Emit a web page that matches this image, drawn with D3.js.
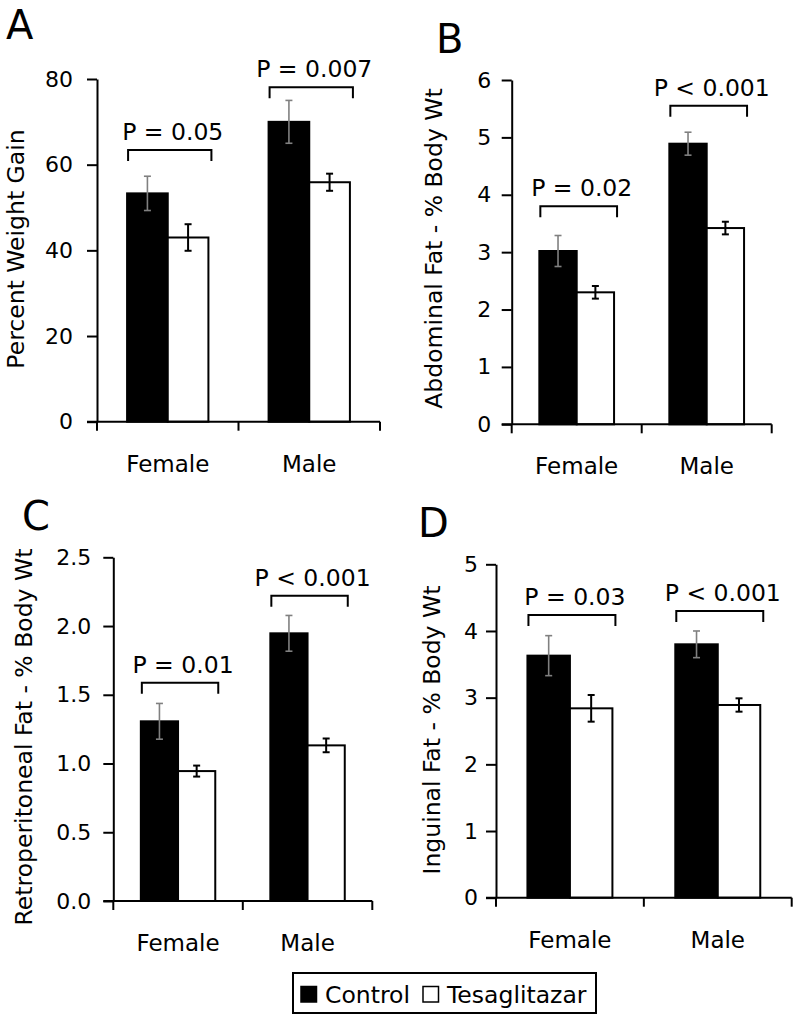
<!DOCTYPE html>
<html><head><meta charset="utf-8">
<script src="https://cdn.jsdelivr.net/npm/d3@7"></script>
<style>
body{margin:0;background:#fff}
svg{display:block}
text{font-family:"DejaVu Sans",sans-serif;fill:#000}
</style>
</head><body>
<svg id="chart" width="800" height="1022"></svg>
<script>
// ---------- data ----------
const categories = ["Female", "Male"];
const series = ["Control", "Tesaglitazar"];

// Panel A: Percent Weight Gain
const aControl = [53.3, 70.0];
const aControlErr = [4.0, 5.0];
const aTesag = [43.0, 55.9];
const aTesagErr = [3.1, 2.0];
const aPText = ["P = 0.05", "P = 0.007"];
const aPLevel = [63.4, 78.1];
const aTicks = [0, 20, 40, 60, 80];

// Panel B: Abdominal Fat - % Body Wt
const bControl = [3.02, 4.89];
const bControlErr = [0.27, 0.2];
const bTesag = [2.30, 3.42];
const bTesagErr = [0.11, 0.11];
const bPText = ["P = 0.02", "P < 0.001"];
const bPLevel = [3.80, 5.55];
const bTicks = [0, 1, 2, 3, 4, 5, 6];

// Panel C: Retroperitoneal Fat - % Body Wt
const cControl = [1.307, 1.947];
const cControlErr = [0.13, 0.13];
const cTesag = [0.945, 1.132];
const cTesagErr = [0.04, 0.05];
const cPText = ["P = 0.01", "P < 0.001"];
const cPLevel = [1.588, 2.22];
const cTicks = [0, 0.5, 1.0, 1.5, 2.0, 2.5];

// Panel D: Inguinal Fat - % Body Wt
const dControl = [3.63, 3.80];
const dControlErr = [0.30, 0.20];
const dTesag = [2.84, 2.89];
const dTesagErr = [0.20, 0.10];
const dPText = ["P = 0.03", "P < 0.001"];
const dPLevel = [4.24, 4.30];
const dTicks = [0, 1, 2, 3, 4, 5];

const panelLetters = ["A", "B", "C", "D"];
const yTitles = ["Percent Weight Gain", "Abdominal Fat - % Body Wt",
                 "Retroperitoneal Fat - % Body Wt", "Inguinal Fat - % Body Wt"];

// ---------- layout ----------
const layouts = [
  {left: 97, right: 380, top: 79, bottom: 421.7, tickPad: 14, fmt: d3.format("d"),
   letterX: 6, letterY: 39, titleX: 24, titleY: 249, ctl: aControl, ctlE: aControlErr, tes: aTesag, tesE: aTesagErr, p: aPText, pl: aPLevel, ticks: aTicks},
  {left: 511.7, right: 771.7, top: 80, bottom: 424.3, tickPad: 10.5, fmt: d3.format("d"),
   letterX: 436, letterY: 53, titleX: 442, titleY: 248.5, ctl: bControl, ctlE: bControlErr, tes: bTesag, tesE: bTesagErr, p: bPText, pl: bPLevel, ticks: bTicks},
  {left: 113.3, right: 372.3, top: 557.3, bottom: 901, tickPad: 12, fmt: d3.format(".1f"),
   letterX: 22, letterY: 530, titleX: 32, titleY: 737, ctl: cControl, ctlE: cControlErr, tes: cTesag, tesE: cTesagErr, p: cPText, pl: cPLevel, ticks: cTicks},
  {left: 496, right: 791.7, top: 564.3, bottom: 897.7, tickPad: 8, fmt: d3.format("d"),
   letterX: 418, letterY: 536.7, titleX: 440, titleY: 730, ctl: dControl, ctlE: dControlErr, tes: dTesag, tesE: dTesagErr, p: dPText, pl: dPLevel, ticks: dTicks}
];

const svg = d3.select("#chart");
const fill = {"Control": "#000", "Tesaglitazar": "#fff"};
const errColor = {"Control": "#808080", "Tesaglitazar": "#000"};

layouts.forEach((L, i) => {
  const g = svg.append("g");
  const y = d3.scaleLinear().domain([L.ticks[0], L.ticks[L.ticks.length - 1]]).range([L.bottom, L.top]);
  const x0 = d3.scaleBand().domain(categories).range([L.left, L.right]).padding(0);
  const x1 = d3.scaleBand().domain(series).range([0, x0.bandwidth()]).paddingInner(0).paddingOuter(0.74);

  const rows = [];
  categories.forEach((c, ci) => {
    rows.push({c, s: "Control", v: L.ctl[ci], e: L.ctlE[ci]});
    rows.push({c, s: "Tesaglitazar", v: L.tes[ci], e: L.tesE[ci]});
  });

  // bars
  g.selectAll("rect.bar").data(rows).join("rect")
    .attr("x", d => x0(d.c) + x1(d.s))
    .attr("y", d => y(d.v))
    .attr("width", x1.bandwidth())
    .attr("height", d => y(0) - y(d.v))
    .attr("fill", d => fill[d.s])
    .attr("stroke", "#000").attr("stroke-width", 2);

  // error bars
  const eg = g.selectAll("g.err").data(rows).join("g");
  eg.each(function(d) {
    const cx = x0(d.c) + x1(d.s) + x1.bandwidth() / 2;
    const s = d3.select(this);
    const col = errColor[d.s];
    const w = d.s === "Control" ? 1.6 : 2;
    s.append("line").attr("x1", cx).attr("x2", cx).attr("y1", y(d.v + d.e)).attr("y2", y(d.v - d.e))
      .attr("stroke", col).attr("stroke-width", w);
    [d.v + d.e, d.v - d.e].forEach(v => {
      s.append("line").attr("x1", cx - 3.5).attr("x2", cx + 3.5).attr("y1", y(v)).attr("y2", y(v))
        .attr("stroke", col).attr("stroke-width", w);
    });
  });

  // y axis
  const ya = g.append("g").attr("transform", `translate(${L.left},0)`)
    .call(d3.axisLeft(y).tickValues(L.ticks).tickFormat(L.fmt).tickSize(10).tickPadding(L.tickPad).tickSizeOuter(0));
  ya.attr("font-family", null).attr("font-size", null);
  ya.select(".domain").attr("stroke", "#000").attr("stroke-width", 2);
  ya.selectAll(".tick line").attr("stroke", "#000").attr("stroke-width", 2);
  ya.selectAll(".tick text").attr("font-size", 22).attr("fill", "#000");

  // x axis
  const xa = g.append("g").attr("transform", `translate(0,${L.bottom})`);
  xa.append("line").attr("x1", L.left - 10).attr("x2", L.right).attr("y1", 0).attr("y2", 0)
    .attr("stroke", "#000").attr("stroke-width", 2);
  const edges = categories.map(c => x0(c)).concat([x0.range()[1]]);
  xa.selectAll("line.xt").data(edges).join("line")
    .attr("x1", d => d).attr("x2", d => d).attr("y1", 0).attr("y2", 9)
    .attr("stroke", "#000").attr("stroke-width", 2);
  xa.selectAll("text.cat").data(categories).join("text")
    .attr("x", d => x0(d) + x0.bandwidth() / 2).attr("y", 50)
    .attr("text-anchor", "middle").attr("font-size", 23).text(d => d);

  // significance brackets
  categories.forEach((c, ci) => {
    const xl = x0(c) + x1("Control") + 1;
    const xr = x0(c) + x1("Tesaglitazar") + x1.bandwidth() + 3;
    const yb = y(L.pl[ci]);
    g.append("path").attr("d", `M${xl},${yb + 11}V${yb}H${xr}V${yb + 11}`)
      .attr("fill", "none").attr("stroke", "#000").attr("stroke-width", 2);
    g.append("text").attr("x", (xl + xr) / 2 + 3).attr("y", yb - 10)
      .attr("text-anchor", "middle").attr("font-size", 23.5).text(L.p[ci]);
  });

  // y title
  g.append("text").attr("transform", `translate(${L.titleX},${L.titleY}) rotate(-90)`)
    .attr("text-anchor", "middle").attr("font-size", 23.5).text(yTitles[i]);

  // panel letter
  g.append("text").attr("x", L.letterX).attr("y", L.letterY).attr("font-size", 40).text(panelLetters[i]);
});

// legend
const lg = svg.append("g");
lg.append("rect").attr("x", 293).attr("y", 973).attr("width", 303).attr("height", 40)
  .attr("fill", "#fff").attr("stroke", "#000").attr("stroke-width", 2);
const legX = {"Control": 301, "Tesaglitazar": 423};
series.forEach(s => {
  lg.append("rect").attr("x", legX[s]).attr("y", 986.5).attr("width", 15.5).attr("height", 15.5)
    .attr("fill", fill[s]).attr("stroke", "#000").attr("stroke-width", 1.5);
  lg.append("text").attr("x", legX[s] + 24).attr("y", 1003).attr("font-size", 23.5).text(s);
});
</script>
</body></html>
